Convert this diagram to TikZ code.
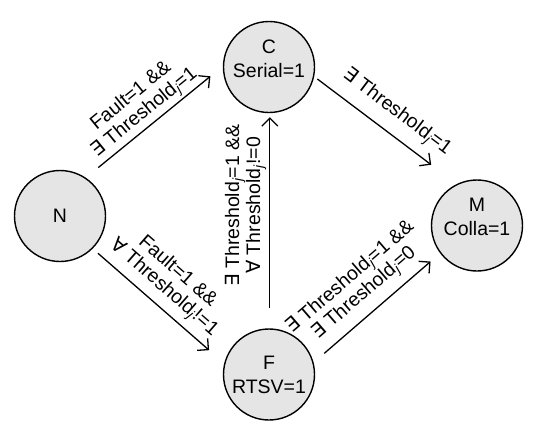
\documentclass[tikz,border=0pt]{standalone}
\usepackage{fontspec}
\setmainfont{Liberation Sans}
\newfontfamily\symfnt{DejaVu Sans}
\usetikzlibrary{arrows.meta}
\newcommand{\EX}{{\symfnt ∃}}
\newcommand{\FA}{{\symfnt ∀}}
\newcommand{\thr}[1]{Threshold\textsubscript{\itshape #1}}
\begin{document}
\begin{tikzpicture}[x=1pt,y=-1pt,
  state/.style={circle, draw, line width=1.4pt, fill=black!10, minimum size=91pt, inner sep=0pt},
  txt/.style={font=\fontsize{19.5}{23.5}\selectfont, align=center, inner sep=0pt},
  lbltext/.style={font=\fontsize{19.5}{21}\selectfont, align=center, inner sep=2pt},
  lbl/.style={lbltext, sloped},
  arr/.style={line width=1.3pt, -{Straight Barb[length=8pt,width=16pt]}}]
\useasboundingbox (0,0) rectangle (537,423);
\node[state] (N) at (60,216) {};
\node[state] (C) at (269,67) {};
\node[state] (M) at (477,225.5) {};
\node[state] (F) at (269,374.5) {};
\node[txt] (Nt) at (60,216) {N};
\node[txt] (Ct) at (269,59) {C\\Serial=1};
\node[txt] (Mt) at (477,217) {M\\Colla=1};
\node[txt] (Ft) at (269,375) {F\\RTSV=1};
\draw[arr, shorten <=16pt, shorten >=16pt] (N.56.5) -- (C.179)
  node[lbl, pos=0.49, above] {Fault=1 \&\&\\\EX\ \thr{j}=1};
\draw[arr, shorten <=7pt, shorten >=20pt] (N.-45.3) -- (F.166.3)
  node[lbl, pos=0.454, above=4pt] {Fault=1 \&\&\\\FA\ \thr{j}!=1};
\draw[arr, shorten <=4pt, shorten >=32pt] (C.-12.2) -- (M.116)
  node[lbl, pos=0.49, above=8pt] {\EX\ \thr{j}=1};
\draw[arr, shorten <=14pt, shorten >=12.6pt] (F.15.9) -- (M.217.6)
  node[lbl, pos=0.5, above=6pt] {\EX\ \thr{j}=1 \&\&\\\EX\ \thr{j}=0};
\draw[arr, shorten <=20.5pt, shorten >=4pt] (F.89) -- (C.271)
  node[lbltext, pos=0.571, rotate=90, anchor=south, inner sep=3pt] {\EX\ \thr{j}=1 \&\&\\\FA\ \thr{j}!=0};
\end{tikzpicture}
\end{document}
